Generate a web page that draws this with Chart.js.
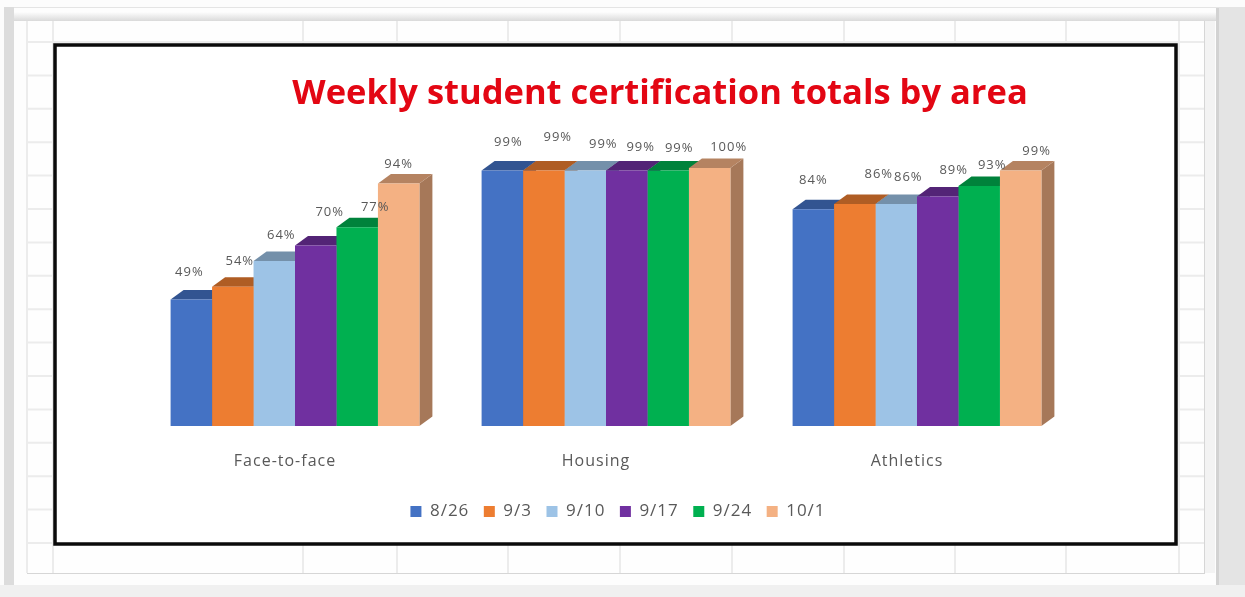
<!DOCTYPE html>
<html>
<head>
<meta charset="utf-8">
<title>Weekly student certification totals by area</title>
<script src="https://cdn.jsdelivr.net/npm/chart.js@4"></script>
<style>
  html, body { margin: 0; padding: 0; background: #fff; }
  canvas { display: block; }
</style>
</head>
<body>
<canvas id="certChart" width="1245" height="597"></canvas>
<script>
const areas = ['Face-to-face', 'Housing', 'Athletics'];
const weeks = ['8/26', '9/3', '9/10', '9/17', '9/24', '10/1'];

const week0826 = [49, 99, 84];
const week0903 = [54, 99, 86];
const week0910 = [64, 99, 86];
const week0917 = [70, 99, 89];
const week0924 = [77, 99, 93];
const week1001 = [94, 100, 99];

const weekColors = ['#4472C4', '#ED7D31', '#9DC3E6', '#7030A0', '#00B050', '#F4B183'];

function shade(hex, k) {
    const n = parseInt(hex.slice(1), 16);
    const r = Math.round((n >> 16) * k);
    const g = Math.round(((n >> 8) & 255) * k);
    const b = Math.round((n & 255) * k);
    return 'rgb(' + r + ',' + g + ',' + b + ')';
}

// Spreadsheet surface behind the chart box
const sheetPlugin = {
    id: 'sheet',
    beforeUpdate(chart) {
        chart.ctx.letterSpacing = '1px';
    },
    beforeDraw(chart) {
        const ctx = chart.ctx;
        ctx.save();
        ctx.fillStyle = '#e4e4e4';
        ctx.fillRect(0, 0, 1245, 597);
        ctx.fillStyle = '#fcfcfc';
        ctx.fillRect(0, 0, 1245, 7);
        ctx.fillRect(0, 0, 4, 597);
        ctx.fillStyle = '#f0f0f0';
        ctx.fillRect(0, 585, 1245, 12);
        ctx.fillStyle = '#dcdcdc';
        ctx.fillRect(4, 7, 10, 578);
        ctx.fillStyle = '#fdfdfd';
        ctx.fillRect(14, 8, 1202, 577);
        ctx.fillStyle = '#d2d2d2';
        ctx.fillRect(1216, 8, 3, 577);

        // sheet edge shading
        const top = ctx.createLinearGradient(0, 12, 0, 21);
        top.addColorStop(0, '#fdfdfd');
        top.addColorStop(1, '#dadada');
        ctx.fillStyle = top;
        ctx.fillRect(14, 12, 1202, 9);
        ctx.fillStyle = '#f3f3f3';
        ctx.fillRect(1205, 21, 10, 552);

        // sheet cells
        ctx.fillStyle = '#fefefe';
        ctx.fillRect(27, 21, 1177, 552);
        ctx.fillStyle = '#d6d6d6';
        ctx.fillRect(27, 573, 1178, 1);
        ctx.fillRect(1204, 21, 1, 552);
        ctx.strokeStyle = '#ececec';
        ctx.lineWidth = 2;
        ctx.beginPath();
        for (const x of [27, 53, 303, 397, 508, 620, 732, 844, 955, 1066, 1179]) {
            ctx.moveTo(x, 21);
            ctx.lineTo(x, 573);
        }
        for (let y = 42; y < 573; y += 33.4) {
            ctx.moveTo(27, y);
            ctx.lineTo(1204, y);
        }
        ctx.stroke();

        // chart box
        ctx.fillStyle = '#ffffff';
        ctx.fillRect(55, 45, 1121, 499);
        ctx.strokeStyle = '#0a0a0a';
        ctx.lineWidth = 3.5;
        ctx.strokeRect(55, 45, 1121, 499);
        ctx.restore();
    },
    // Extruded top and side faces, left to right so later bars overlap earlier ones
    beforeDatasetsDraw(chart, args, opts) {
        const ctx = chart.ctx;
        ctx.save();
        chart.data.datasets.forEach(function (ds, i) {
            chart.getDatasetMeta(i).data.forEach(function (bar) {
                const left = bar.x - bar.width / 2;
                const right = bar.x + bar.width / 2;
                ctx.fillStyle = shade(ds.backgroundColor, opts.sideShade);
                ctx.beginPath();
                ctx.moveTo(right, bar.y);
                ctx.lineTo(right + opts.dx, bar.y - opts.dy);
                ctx.lineTo(right + opts.dx, bar.base - opts.dy);
                ctx.lineTo(right, bar.base);
                ctx.closePath();
                ctx.fill();
                ctx.fillStyle = shade(ds.backgroundColor, opts.topShade);
                ctx.beginPath();
                ctx.moveTo(left, bar.y);
                ctx.lineTo(left + opts.dx, bar.y - opts.dy);
                ctx.lineTo(right + opts.dx, bar.y - opts.dy);
                ctx.lineTo(right, bar.y);
                ctx.closePath();
                ctx.fill();
            });
        });
        ctx.restore();
    }
};

// Percent labels over the bars, each with its own hand-placed offset
const barLabelPlugin = {
    id: 'barLabels',
    afterDatasetsDraw(chart, args, opts) {
        const ctx = chart.ctx;
        ctx.save();
        ctx.font = opts.font;
        ctx.fillStyle = opts.color;
        ctx.textAlign = 'center';
        ctx.textBaseline = 'middle';
        chart.data.datasets.forEach(function (ds, i) {
            chart.getDatasetMeta(i).data.forEach(function (bar, j) {
                const off = opts.offsets[i][j];
                ctx.fillText(ds.data[j] + '%', bar.x + off[0], bar.y + off[1]);
            });
        });
        ctx.restore();
    }
};

// The heading sits right of centre in the box and keeps normal tracking
const titlePlugin = {
    id: 'titleTweak',
    afterInit(chart) {
        const block = chart.titleBlock;
        const drawTitle = block.draw;
        block.draw = function () {
            chart.ctx.letterSpacing = '0px';
            drawTitle.apply(block, arguments);
            chart.ctx.letterSpacing = '1px';
        };
    },
    afterLayout(chart, args, opts) {
        chart.titleBlock.left += opts.by;
        chart.titleBlock.right += opts.by;
    }
};

new Chart(document.getElementById('certChart'), {
    type: 'bar',
    plugins: [sheetPlugin, barLabelPlugin, titlePlugin],
    data: {
        labels: areas,
        datasets: [
            { label: weeks[0], data: week0826, backgroundColor: weekColors[0] },
            { label: weeks[1], data: week0903, backgroundColor: weekColors[1] },
            { label: weeks[2], data: week0910, backgroundColor: weekColors[2] },
            { label: weeks[3], data: week0917, backgroundColor: weekColors[3] },
            { label: weeks[4], data: week0924, backgroundColor: weekColors[4] },
            { label: weeks[5], data: week1001, backgroundColor: weekColors[5] }
        ]
    },
    options: {
        responsive: false,
        animation: false,
        layout: {
            padding: { left: 139.5, right: 148.5, top: 73, bottom: 67 }
        },
        datasets: {
            bar: { barPercentage: 1, categoryPercentage: 0.8 }
        },
        scales: {
            x: {
                grid: { display: false },
                border: { display: false },
                afterFit: function (scale) { scale.height = 62.5; },
                ticks: {
                    padding: 18,
                    labelOffset: -10,
                    color: '#595959',
                    font: { family: '"Open Sans"', size: 16 }
                }
            },
            y: {
                position: 'right',
                min: 0,
                max: 100,
                grid: { display: false },
                border: { display: false },
                ticks: { display: false },
                afterFit: function (scale) { scale.width = 24; }
            }
        },
        plugins: {
            title: {
                display: true,
                text: 'Weekly student certification totals by area',
                color: '#E30613',
                font: { family: '"Open Sans"', size: 34.5, weight: 'bold' },
                padding: { top: 0, bottom: 53.6 }
            },
            legend: {
                position: 'bottom',
                labels: {
                    boxWidth: 11,
                    boxHeight: 11,
                    padding: 14.5,
                    color: '#595959',
                    font: { family: '"Open Sans"', size: 17 }
                }
            },
            tooltip: { enabled: false },
            sheet: { dx: 13, dy: 9.5, topShade: 0.74, sideShade: 0.68 },
            barLabels: {
                font: '13px "Open Sans"',
                color: '#595959',
                offsets: [
                    [[-2, -27], [6, -28], [0, -29]],
                    [[7, -25], [14, -33], [24, -30]],
                    [[7, -26], [18, -26], [12, -27]],
                    [[14, -33], [14, -23], [16, -26]],
                    [[18, -20], [11, -22], [13, -21]],
                    [[0, -19], [19, -21], [16, -19]]
                ]
            },
            titleTweak: { by: 42 }
        }
    }
});
</script>
</body>
</html>
